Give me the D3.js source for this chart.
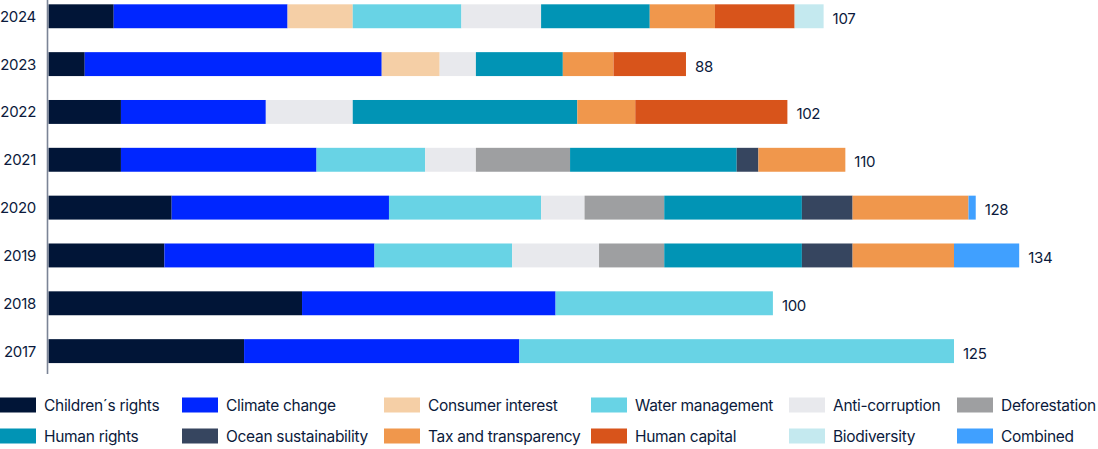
<!DOCTYPE html>
<html>
<head>
<meta charset="utf-8">
<script src="https://cdn.jsdelivr.net/npm/d3@7"></script>
<style>
  body { margin: 0; background: #fff; }
  svg text { font-family: Inter, "Noto Sans", sans-serif; fill: #0b1a3c; }
</style>
</head>
<body>
<svg id="chart" width="1098" height="449"></svg>
<script>
/* Stacked horizontal bars by year */
const years = ['2024', '2023', '2022', '2021', '2020', '2019', '2018', '2017'];
const categories = ['Children\u00b4s rights', 'Climate change', 'Consumer interest', 'Water management',
  'Anti-corruption', 'Deforestation', 'Human rights', 'Ocean sustainability',
  'Tax and transparency', 'Human capital', 'Biodiversity', 'Combined'];
const colors = ['#011537', '#0026ff', '#f5cfa6', '#68d3e5', '#e8e9ed', '#9e9fa1',
  '#0194b5', '#36455f', '#f0974c', '#d8541b', '#c4e9ef', '#40a0ff'];

// one array per category, same order as years
const childrensRights = [9, 5, 10, 10, 17, 16, 35, 27];
const climateChange   = [24, 41, 20, 27, 30, 29, 35, 38];
const consumerInterest = [9, 8, 0, 0, 0, 0, 0, 0];
const waterManagement = [15, 0, 0, 15, 21, 19, 30, 60];
const antiCorruption  = [11, 5, 12, 7, 6, 12, 0, 0];
const deforestation   = [0, 0, 0, 13, 11, 9, 0, 0];
const humanRights     = [15, 12, 31, 23, 19, 19, 0, 0];
const oceanSust       = [0, 0, 0, 3, 7, 7, 0, 0];
const taxTransparency = [9, 7, 8, 12, 16, 14, 0, 0];
const humanCapital    = [11, 10, 21, 0, 0, 0, 0, 0];
const biodiversity    = [4, 0, 0, 0, 0, 0, 0, 0];
const combined        = [0, 0, 0, 0, 1, 9, 0, 0];
const totals = [107, 88, 102, 110, 128, 134, 100, 125];

const series = [childrensRights, climateChange, consumerInterest, waterManagement, antiCorruption,
  deforestation, humanRights, oceanSust, taxTransparency, humanCapital, biodiversity, combined];

const rows = years.map((y, i) => {
  const r = { year: y, total: totals[i] };
  categories.forEach((c, k) => { r[c] = series[k][i]; });
  return r;
});

const svg = d3.select('#chart');
const x = d3.scaleLinear().domain([0, 125]).range([48.5, 954]);
const y = d3.scaleBand().domain(years).range([-19.6, 387]).paddingInner(0.5).paddingOuter(0.5);
const color = d3.scaleOrdinal().domain(categories).range(colors);

const stacked = d3.stack().keys(categories)(rows);

svg.append('g').selectAll('g').data(stacked).enter().append('g')
  .attr('fill', d => color(d.key))
  .selectAll('rect').data(d => d.filter(p => p[1] > p[0])).enter().append('rect')
  .attr('x', d => x(d[0]))
  .attr('width', d => x(d[1]) - x(d[0]))
  .attr('y', d => y(d.data.year))
  .attr('height', y.bandwidth());

// axis line
svg.append('line')
  .attr('x1', 47.5).attr('x2', 47.5).attr('y1', 0).attr('y2', 374)
  .attr('stroke', '#7b8496').attr('stroke-width', 1.6);

// year labels
svg.append('g').selectAll('text').data(rows).enter().append('text')
  .attr('x', 36)
  .attr('y', d => y(d.year) + y.bandwidth() / 2)
  .attr('dy', '0.36em')
  .attr('text-anchor', 'end')
  .style('font-size', '15px')
  .style('letter-spacing', '-0.3px')
  .text(d => d.year);

// totals
svg.append('g').selectAll('text').data(rows).enter().append('text')
  .attr('x', d => x(d.total) + 9)
  .attr('y', d => y(d.year) + y.bandwidth() / 2 + 2)
  .attr('dy', '0.36em')
  .style('font-size', '15px')
  .style('letter-spacing', '-0.3px')
  .text(d => d.total);

// legend
const legX = [0, 182, 384, 591, 789, 957];
const legend = svg.append('g').selectAll('g').data(categories).enter().append('g')
  .attr('transform', (d, i) => `translate(${legX[i % 6]},${i < 6 ? 397.5 : 428.5})`);
legend.append('rect').attr('width', 36).attr('height', 15).attr('fill', d => color(d));
legend.append('text')
  .attr('x', 44).attr('y', 13.2)
  .style('font-size', '15.5px')
  .style('letter-spacing', '-0.3px')
  .text(d => d);
</script>
</body>
</html>
